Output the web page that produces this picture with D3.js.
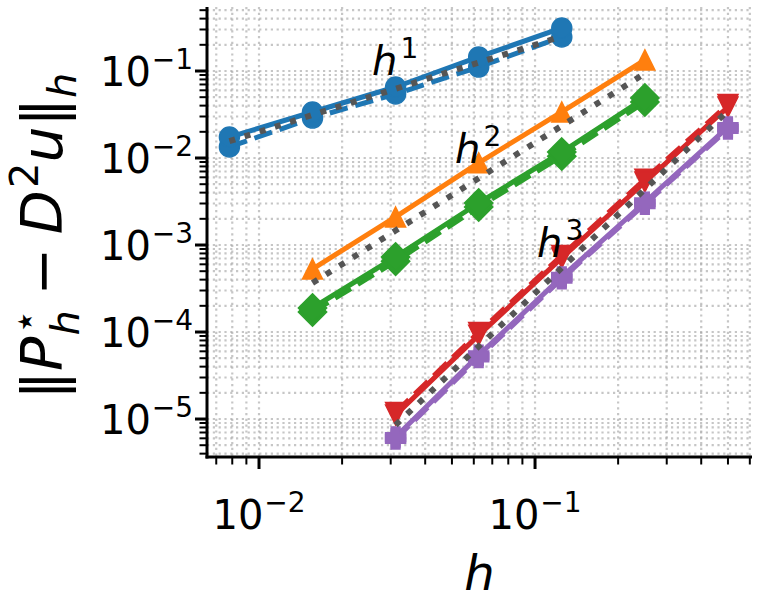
<!DOCTYPE html>
<html>
<head>
<meta charset="utf-8">
<script src="https://cdn.jsdelivr.net/npm/d3@7"></script>
<style>
body { margin: 0; background: #fff; }
svg { display: block; }
text { font-family: "DejaVu Sans"; fill: #000; }
</style>
</head>
<body>
<div id="chart"></div>
<script>
// mesh sizes
var h1 = [1/128, 1/64, 1/32, 1/16, 1/8];
var h2 = [1/64, 1/32, 1/16, 1/8, 1/4];
var h3 = [1/32, 1/16, 1/8, 1/4, 1/2];

// errors
var blueSolid   = [0.0174, 0.0338, 0.0655, 0.145, 0.312];
var blueDashed  = [0.0134, 0.0288, 0.0545, 0.111, 0.246];
var orangeSolid = [5.3e-4, 2.1e-3, 8.8e-3, 0.0338, 0.134];
var greenSolid  = [1.89e-4, 7.3e-4, 3.04e-3, 0.0117, 0.049];
var greenDashed = [1.70e-4, 6.5e-4, 2.73e-3, 0.0105, 0.044];
var redSolid    = [1.11e-5, 9.2e-5, 7.1e-4, 5.3e-3, 0.0386];
var redDashed   = [1.19e-5, 9.9e-5, 7.6e-4, 5.7e-3, 0.0412];
var purpleSolid = [6.2e-6, 5.4e-5, 4.3e-4, 3.1e-3, 0.0227];
var purpleDashed= [5.9e-6, 5.1e-5, 4.1e-4, 2.95e-3, 0.0216];

// reference slopes c*h^p
var refOrders = [1, 2, 3];
var refConsts = [2.0, 1.5, 0.28];
var refMesh = [h1, h2, h3];

var xTickMajor = [1e-2, 1e-1];
var yTickMajor = [1e-5, 1e-4, 1e-3, 1e-2, 1e-1];

var W = 760, H = 604;
var L = 207, R = 752, T = 7, B = 457;
var FS = 40;

var svg = d3.select("#chart").append("svg")
    .attr("width", W).attr("height", H);

var x = d3.scaleLog().domain([0.00648, 0.611]).range([L, R]);
var y = d3.scaleLog().domain([3.66e-6, 0.544]).range([B, T]);

function allTicks(dom) {
    var out = [];
    for (var d = -7; d <= 1; d++) {
        for (var k = 1; k <= 9; k++) {
            var v = k * Math.pow(10, d);
            if (v >= dom[0] && v <= dom[1]) out.push({v: v, major: k === 1});
        }
    }
    return out;
}
var xt = allTicks(x.domain());
var yt = allTicks(y.domain());

// grid, major and minor
var grid = svg.append("g")
    .attr("stroke", "#a0a0a0")
    .attr("stroke-opacity", 0.6)
    .attr("stroke-width", 2.2)
    .attr("stroke-dasharray", "2.2,3.6");
grid.selectAll(".gx").data(xt).enter().append("line")
    .attr("x1", function(d) { return x(d.v); }).attr("x2", function(d) { return x(d.v); })
    .attr("y1", T).attr("y2", B);
grid.selectAll(".gy").data(yt).enter().append("line")
    .attr("x1", L).attr("x2", R)
    .attr("y1", function(d) { return y(d.v); }).attr("y2", function(d) { return y(d.v); });

// markers, size m like matplotlib markersize
var M = 20;
function markerPath(kind) {
    var s = M / 2;
    if (kind === "o") return d3.symbol(d3.symbolCircle, Math.PI * s * s)();
    if (kind === "^") return "M0," + (-s) + "L" + s + "," + s + "L" + (-s) + "," + s + "Z";
    if (kind === "v") return "M0," + s + "L" + s + "," + (-s) + "L" + (-s) + "," + (-s) + "Z";
    if (kind === "D") { var q = M * Math.SQRT1_2; return "M0," + (-q) + "L" + q + ",0L0," + q + "L" + (-q) + ",0Z"; }
    if (kind === "P") {
        var a = s, b = s / 2.3;
        return "M" + (-b) + "," + (-a) + "H" + b + "V" + (-b) + "H" + a + "V" + b + "H" + b + "V" + a +
               "H" + (-b) + "V" + b + "H" + (-a) + "V" + (-b) + "H" + (-b) + "Z";
    }
}

var series = [
    {h: h1, v: blueDashed,   c: "#1f77b4", m: "o", dash: true},
    {h: h1, v: blueSolid,    c: "#1f77b4", m: "o", dash: false},
    {h: h2, v: orangeSolid,  c: "#ff7f0e", m: "^", dash: false},
    {h: h2, v: greenDashed,  c: "#2ca02c", m: "D", dash: true},
    {h: h2, v: greenSolid,   c: "#2ca02c", m: "D", dash: false},
    {h: h3, v: redDashed,    c: "#d62728", m: "v", dash: true},
    {h: h3, v: redSolid,     c: "#d62728", m: "v", dash: false},
    {h: h3, v: purpleDashed, c: "#9467bd", m: "P", dash: true},
    {h: h3, v: purpleSolid,  c: "#9467bd", m: "P", dash: false}
];

var line = d3.line()
    .x(function(d) { return x(d[0]); })
    .y(function(d) { return y(d[1]); });

var plot = svg.append("g");
series.forEach(function(s) {
    var pts = s.h.map(function(hv, i) { return [hv, s.v[i]]; });
    var sg = plot.append("g");
    sg.append("path")
        .attr("d", line(pts))
        .attr("fill", "none")
        .attr("stroke", s.c)
        .attr("stroke-width", 5)
        .attr("stroke-linejoin", "round")
        .attr("stroke-linecap", s.dash ? "butt" : "square")
        .attr("stroke-dasharray", s.dash ? "18.5,8" : null);
    sg.selectAll(".mk").data(pts).enter().append("path")
        .attr("d", markerPath(s.m))
        .attr("transform", function(d) { return "translate(" + x(d[0]) + "," + y(d[1]) + ")"; })
        .attr("fill", s.c)
        .attr("stroke", s.c)
        .attr("stroke-width", 1.5)
        .attr("stroke-linejoin", "miter");
});

// reference lines
refOrders.forEach(function(p, i) {
    var hs = refMesh[i];
    var pts = hs.map(function(hv) { return [hv, refConsts[i] * Math.pow(hv, p)]; });
    plot.append("path")
        .attr("d", line(pts))
        .attr("fill", "none")
        .attr("stroke", "#555")
        .attr("stroke-width", 6)
        .attr("stroke-dasharray", "6,9.9");
});

// axes spines and ticks
var ax = svg.append("g").attr("stroke", "#000");
ax.append("line").attr("x1", L).attr("x2", L).attr("y1", T).attr("y2", B + 1.5).attr("stroke-width", 3);
ax.append("line").attr("x1", L - 1.5).attr("x2", R).attr("y1", B).attr("y2", B).attr("stroke-width", 3);
ax.selectAll(".tx").data(xt).enter().append("line")
    .attr("x1", function(d) { return x(d.v); }).attr("x2", function(d) { return x(d.v); })
    .attr("y1", B).attr("y2", function(d) { return B + (d.major ? 12 : 7.5); })
    .attr("stroke-width", function(d) { return d.major ? 3 : 2; });
ax.selectAll(".ty").data(yt).enter().append("line")
    .attr("y1", function(d) { return y(d.v); }).attr("y2", function(d) { return y(d.v); })
    .attr("x1", L).attr("x2", function(d) { return L - (d.major ? 12 : 7.5); })
    .attr("stroke-width", function(d) { return d.major ? 3 : 2; });

// small mathtext layout: pieces laid out left to right, scripts may stack
function mathText(parent, parts, size) {
    var g = parent.append("g");
    var cx = 0, baseX = 0;
    parts.forEach(function(p) {
        var script = p.sub || p.sup;
        var fs = script ? size * 0.7 : size;
        var dy = p.sup ? -size * 0.42 : (p.sub ? size * (p.low || 0.2) : 0);
        var px = (p.stack ? baseX : cx) + (p.dx || 0) * size;
        var t = g.append("text")
            .attr("x", px).attr("y", dy)
            .attr("font-size", fs)
            .attr("font-style", p.it ? "italic" : "normal")
            .text(p.t);
        var w = t.node().getComputedTextLength();
        if (p.stack) {
            cx = Math.max(cx, px + w);
        } else {
            baseX = px;
            cx = px + w;
        }
    });
    return {g: g, w: cx};
}
function placed(parent, parts, size, px, py, anchor, rot) {
    var holder = parent.append("g")
        .attr("transform", "translate(" + px + "," + py + ")" + (rot ? " rotate(" + rot + ")" : ""));
    var m = mathText(holder, parts, size);
    var off = anchor === "end" ? -m.w : anchor === "middle" ? -m.w / 2 : 0;
    m.g.attr("transform", "translate(" + off + ",0)");
    return m;
}
function expParts(v) {
    var e = Math.round(Math.log10(v));
    return [{t: "10"}, {t: "\u2212" + Math.abs(e), sup: true, dx: 0.02}];
}

var labels = svg.append("g");
xTickMajor.forEach(function(v) {
    placed(labels, expParts(v), FS, x(v), 529, "middle");
});
yTickMajor.forEach(function(v) {
    placed(labels, expParts(v), FS, L - 14, y(v) + 15, "end");
});

// axis labels
placed(labels, [{t: "h", it: true}], 48, (L + R) / 2, 590, "middle");
placed(labels, [
    {t: "\u2016"},
    {t: "P", it: true},
    {t: "h", it: true, sub: true, low: 0.3, dx: 0.02},
    {t: "\u22c6", sup: true, stack: true, dx: 0.02},
    {t: "\u2212", dx: 0.24},
    {t: "D", it: true, dx: 0.24},
    {t: "2", sup: true, dx: 0.04},
    {t: "u", it: true},
    {t: "\u2016"},
    {t: "h", it: true, sub: true, low: 0.25}
], 57, 62, (T + B) / 2 + 4, "middle", -90);

// slope annotations
var ann = [
    {p: "1", x: 372, y: 75},
    {p: "2", x: 455, y: 163},
    {p: "3", x: 537, y: 257}
];
ann.forEach(function(a) {
    placed(labels, [{t: "h", it: true}, {t: a.p, sup: true, dx: 0.08}], FS, a.x, a.y, "start");
});
</script>
</body>
</html>
